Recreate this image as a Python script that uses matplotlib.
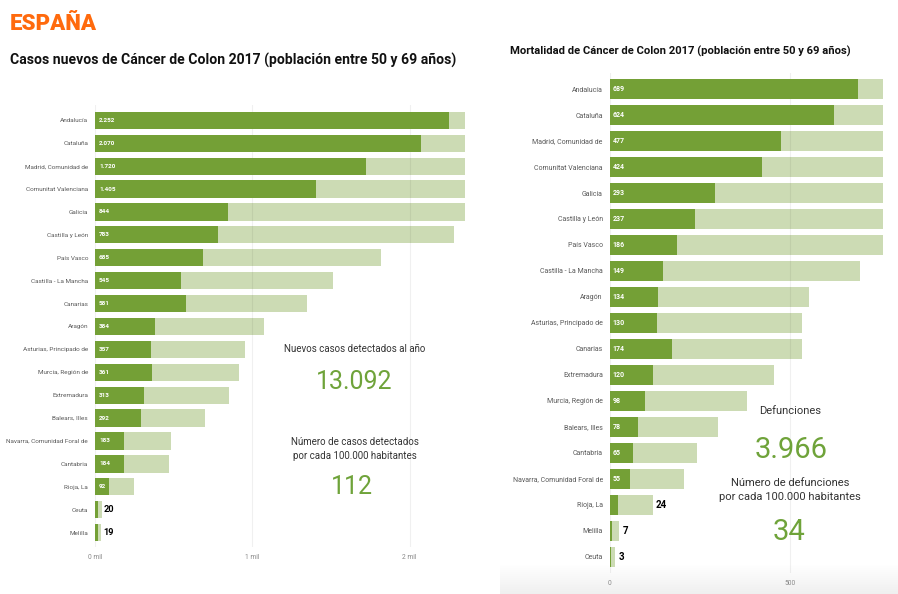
import matplotlib
matplotlib.use("Agg")
import matplotlib.pyplot as plt
import numpy as np

plt.rcParams['font.family'] = ['Roboto', 'DejaVu Sans']

# --- casos nuevos (izquierda) ---
regiones_casos = ["Andalucía", "Cataluña", "Madrid, Comunidad de", "Comunitat Valenciana",
                  "Galicia", "Castilla y León", "País Vasco", "Castilla - La Mancha",
                  "Canarias", "Aragón", "Asturias, Principado de", "Murcia, Región de",
                  "Extremadura", "Balears, Illes", "Navarra, Comunidad Foral de",
                  "Cantabria", "Rioja, La", "Ceuta", "Melilla"]
casos = [2252, 2070, 1720, 1405, 844, 783, 685, 545, 581, 384, 357, 361,
         313, 292, 183, 184, 92, 20, 19]
casos_fondo = [2350, 2350, 2350, 2350, 2350, 2280, 1815, 1510, 1350, 1076, 955, 917,
               853, 700, 484, 471, 248, 42, 36]
casos_ticks = [0, 1000, 2000]
casos_ticklabels = ["0 mil", "1 mil", "2 mil"]

# --- mortalidad (derecha) ---
regiones_mort = ["Andalucía", "Cataluña", "Madrid, Comunidad de", "Comunitat Valenciana",
                 "Galicia", "Castilla y León", "País Vasco", "Castilla - La Mancha",
                 "Aragón", "Asturias, Principado de", "Canarias", "Extremadura",
                 "Murcia, Región de", "Balears, Illes", "Cantabria",
                 "Navarra, Comunidad Foral de", "Rioja, La", "Melilla", "Ceuta"]
muertes = [689, 624, 477, 424, 293, 237, 186, 149, 134, 130, 174, 120,
           98, 78, 65, 55, 24, 7, 3]
muertes_fondo = [760, 760, 760, 760, 760, 760, 760, 696, 554, 535, 535, 456,
                 381, 300, 243, 207, 119, 26, 15]
mort_ticks = [0, 500]
mort_ticklabels = ["0", "500"]

VERDE = "#74a036"
VERDE_CLARO = "#ccdbb4"
GRIS = "#5a5a5a"

W, H = 898, 594
fig = plt.figure(figsize=(W / 100, H / 100), dpi=100)


def fx(px):
    return px / W


def fy(py):
    return 1 - py / H


def fmt(v):
    return f"{v:,}".replace(",", ".")


# fondo degradado bajo el panel derecho
bg = fig.add_axes([fx(500), 0, fx(398), fy(565)], zorder=-1)
grad = np.linspace(1.0, 0.94, 50).reshape(-1, 1)
bg.imshow(np.dstack([grad, grad, grad]), aspect="auto", extent=(0, 1, 0, 1))
bg.axis("off")


def panel(rect, cats, vals, fondo, xmax, ticks, ticklabels, bh, ylim, lab_fs, pad_out):
    ax = fig.add_axes(rect)
    ax.patch.set_alpha(0)
    y = np.arange(len(cats))
    ax.barh(y, fondo, height=bh, color=VERDE_CLARO, zorder=1)
    ax.barh(y, vals, height=bh, color=VERDE, zorder=2)
    ax.set_xlim(0, xmax)
    ax.set_ylim(*ylim)
    ax.set_yticks(y)
    ax.set_yticklabels(cats, fontsize=lab_fs, color=GRIS)
    ax.set_xticks(ticks)
    ax.set_xticklabels(ticklabels, fontsize=4.8, color="#888888")
    ax.tick_params(length=0, pad=5)
    for s in ax.spines.values():
        s.set_visible(False)
    for t in ticks:
        ax.axvline(t, color="black", alpha=0.06, lw=0.8, zorder=1.5)
    for i, (v, f) in enumerate(zip(vals, fondo)):
        if v / xmax > 0.035:
            ax.text(xmax * 0.011, i, fmt(v), color="white", fontsize=lab_fs,
                    va="center", ha="left", zorder=4, fontweight="bold")
        else:
            ax.text(f + xmax * pad_out, i, fmt(v), color="black", fontsize=lab_fs + 2,
                    va="center", ha="left", zorder=4, fontweight="bold")
    return ax


panel([fx(95), fy(547), fx(464.7 - 95), fy(105) - fy(547)],
      regiones_casos, casos, casos_fondo, 2350, casos_ticks, casos_ticklabels,
      0.755, (18.63, -0.67), 4.6, 0.006)

panel([fx(609.7), fy(573), fx(883.3 - 609.7), fy(73) - fy(573)],
      regiones_mort, muertes, muertes_fondo, 760, mort_ticks, mort_ticklabels,
      0.78, (18.63, -0.62), 5.0, 0.012)

# titulos
fig.text(fx(10), fy(24), "ESPAÑA", color="#ff6a0d", fontsize=16, fontweight="black",
         va="center", ha="left")
fig.text(fx(10), fy(60), "Casos nuevos de Cáncer de Colon 2017 (población entre 50 y 69 años)",
         fontsize=10.1, fontweight="bold", va="center", ha="left", color="#111111")
fig.text(fx(510), fy(51), "Mortalidad de Cáncer de Colon 2017 (población entre 50 y 69 años)",
         fontsize=8.1, fontweight="bold", va="center", ha="left", color="#111111")

# cifras resumen izquierda
fig.text(fx(355), fy(349), "Nuevos casos detectados al año", fontsize=7, color="#333333",
         ha="center", va="center")
fig.text(fx(354), fy(382), "13.092", fontsize=18, color="#6fa33a", ha="center", va="center")
fig.text(fx(355), fy(449), "Número de casos detectados\npor cada 100.000 habitantes",
         fontsize=7, color="#333333", ha="center", va="center", linespacing=1.4)
fig.text(fx(352), fy(487), "112", fontsize=18, color="#6fa33a", ha="center", va="center")

# cifras resumen derecha
fig.text(fx(790), fy(411), "Defunciones", fontsize=8, color="#333333", ha="center", va="center")
fig.text(fx(791), fy(450), "3.966", fontsize=21, color="#6fa33a", ha="center", va="center")
fig.text(fx(790), fy(490), "Número de defunciones\npor cada 100.000 habitantes",
         fontsize=8, color="#333333", ha="center", va="center", linespacing=1.4)
fig.text(fx(789), fy(532), "34", fontsize=21, color="#6fa33a", ha="center", va="center")

fig.savefig("out.png", dpi=100)
